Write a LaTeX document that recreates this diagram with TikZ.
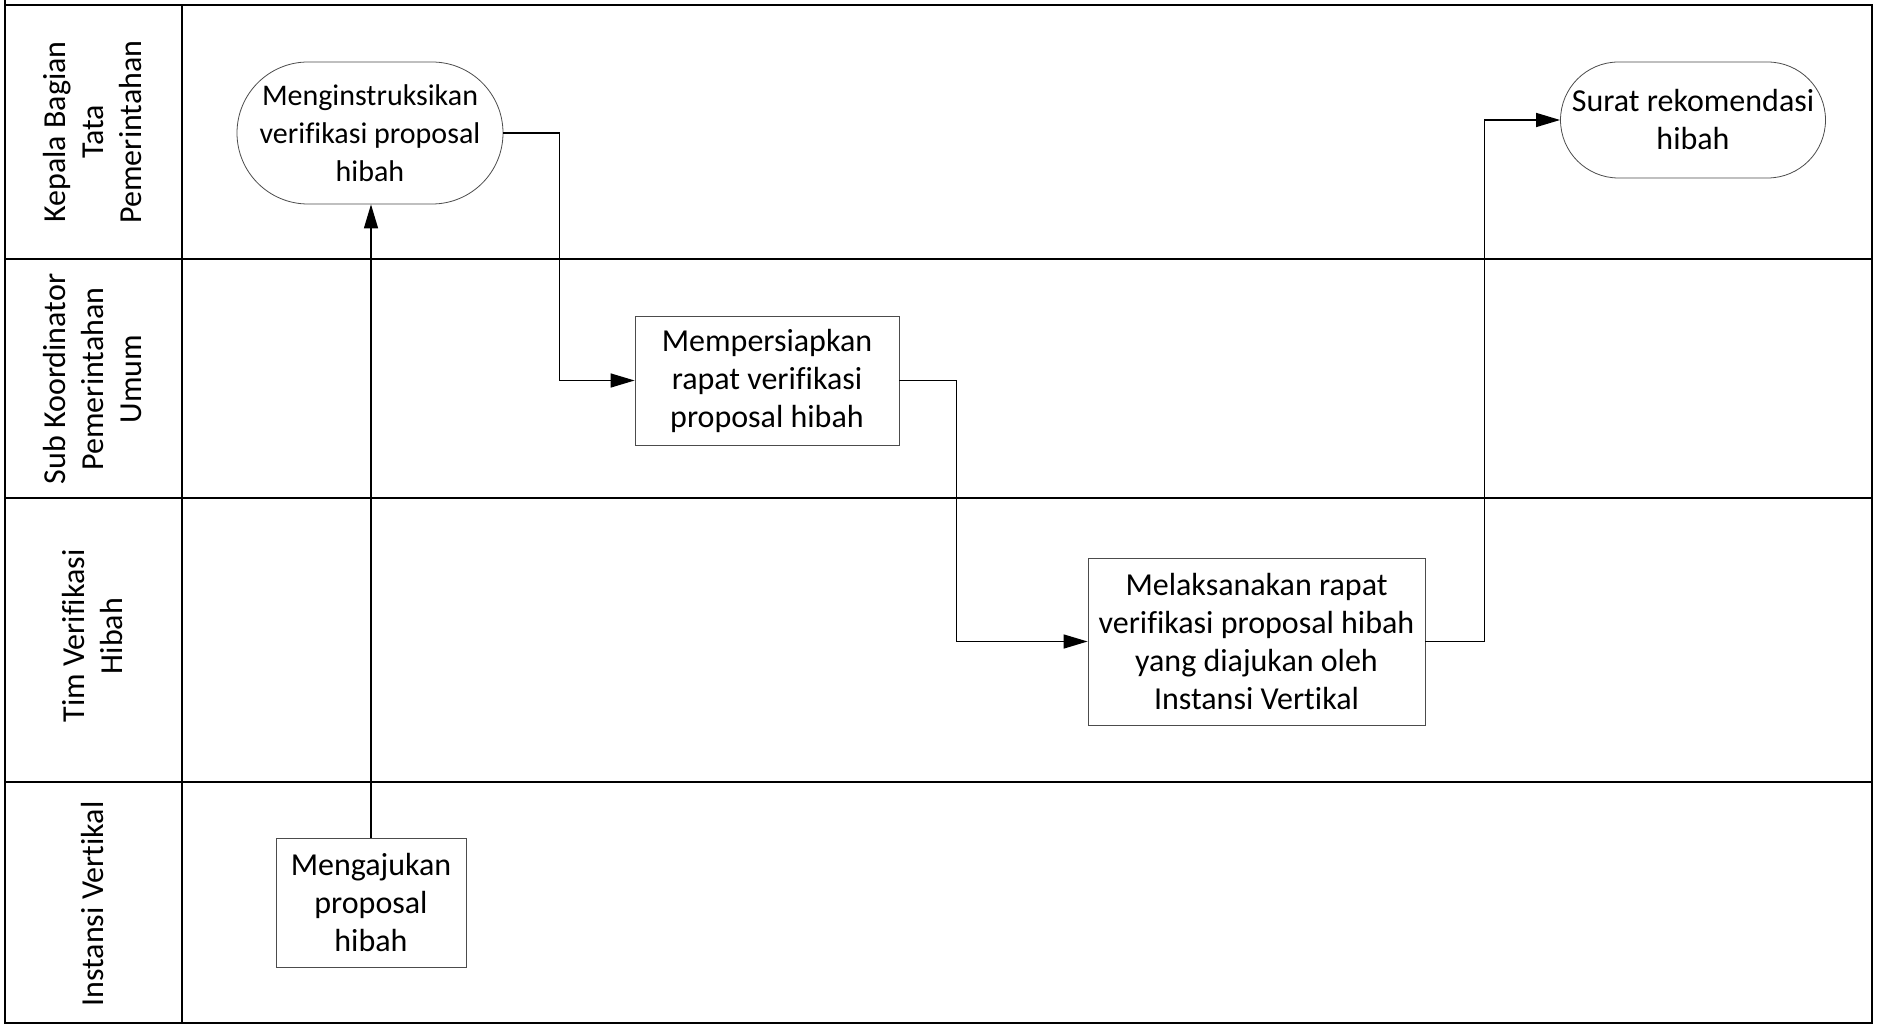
\documentclass[tikz,border=0pt]{standalone}
\usepackage{fontspec}
\setmainfont{Carlito}[Ligatures={NoCommon}]
\usetikzlibrary{arrows.meta}
\newcommand{\boxfont}{\fontsize{16}{19}\selectfont}
\newcommand{\termfont}{\fontsize{15}{19}\selectfont}

\begin{document}
\begin{tikzpicture}[x=0.5pt, y=-0.5pt, >={Triangle[length=12pt, width=7pt]},
                    lane/.style = {line width=1pt},
                    lanelabel/.style = {rotate=90, align=center, font=\boxfont},
                    main/.style = {draw=black!70, line width=0.4pt, fill=white,
                        align=center, inner sep=0pt, font=\boxfont},
                    term/.style = {main, rounded corners=#1},
                    flow/.style = {->, line width=0.7pt}]
        \useasboundingbox (0,0) rectangle (1879,1027);

        % swimlanes
        \draw[lane] (5,0) -- (5,1023) -- (1872,1023) -- (1872,5) -- (5,5);
        \draw[lane] (182,5) -- (182,1023);
        \foreach \y in {259, 498, 782}
            \draw[lane] (5,\y) -- (1872,\y);

        \node[lanelabel] (kabag) at (93,132) {Kepala Bagian\\Tata\\Pemerintahan};
        \node[lanelabel] (subkoor) at (93,379) {Sub Koordinator\\Pemerintahan\\Umum};
        \node[lanelabel] (timver) at (93,636) {Tim Verifikasi\\Hibah};
        \node[lanelabel] (instansi) at (93,904) {Instansi Vertikal};

        % activities
        \node[term=35.5pt, minimum width=133pt, minimum height=71pt, font=\termfont]
            (instruksi) at (370,133) {Menginstruksikan\\verifikasi proposal\\hibah};
        \node[term=29pt, minimum width=132.5pt, minimum height=58pt]
            (surat) at (1693,120) {Surat rekomendasi\\hibah};
        \node[main, minimum width=132pt, minimum height=64.5pt]
            (siapkan) at (767,380.5) {Mempersiapkan\\rapat verifikasi\\proposal hibah};
        \node[main, minimum width=168.5pt, minimum height=83.5pt]
            (laksana) at (1256.5,641.5) {Melaksanakan rapat\\verifikasi proposal hibah\\yang diajukan oleh\\Instansi Vertikal};
        \node[main, minimum width=95pt, minimum height=64.5pt]
            (ajukan) at (371,902.5) {Mengajukan\\proposal\\hibah};

        \draw[flow] (ajukan.north) -- (ajukan.north |- instruksi.south);
        \draw[flow] (instruksi.east) -- ++(56,0) |- (siapkan.west);
        \draw[flow] (siapkan.east) -- ++(57,0) |- (laksana.west);
        \draw[flow] (laksana.east) -- ++(59,0) |- (surat.west);
    \end{tikzpicture}
\end{document}
